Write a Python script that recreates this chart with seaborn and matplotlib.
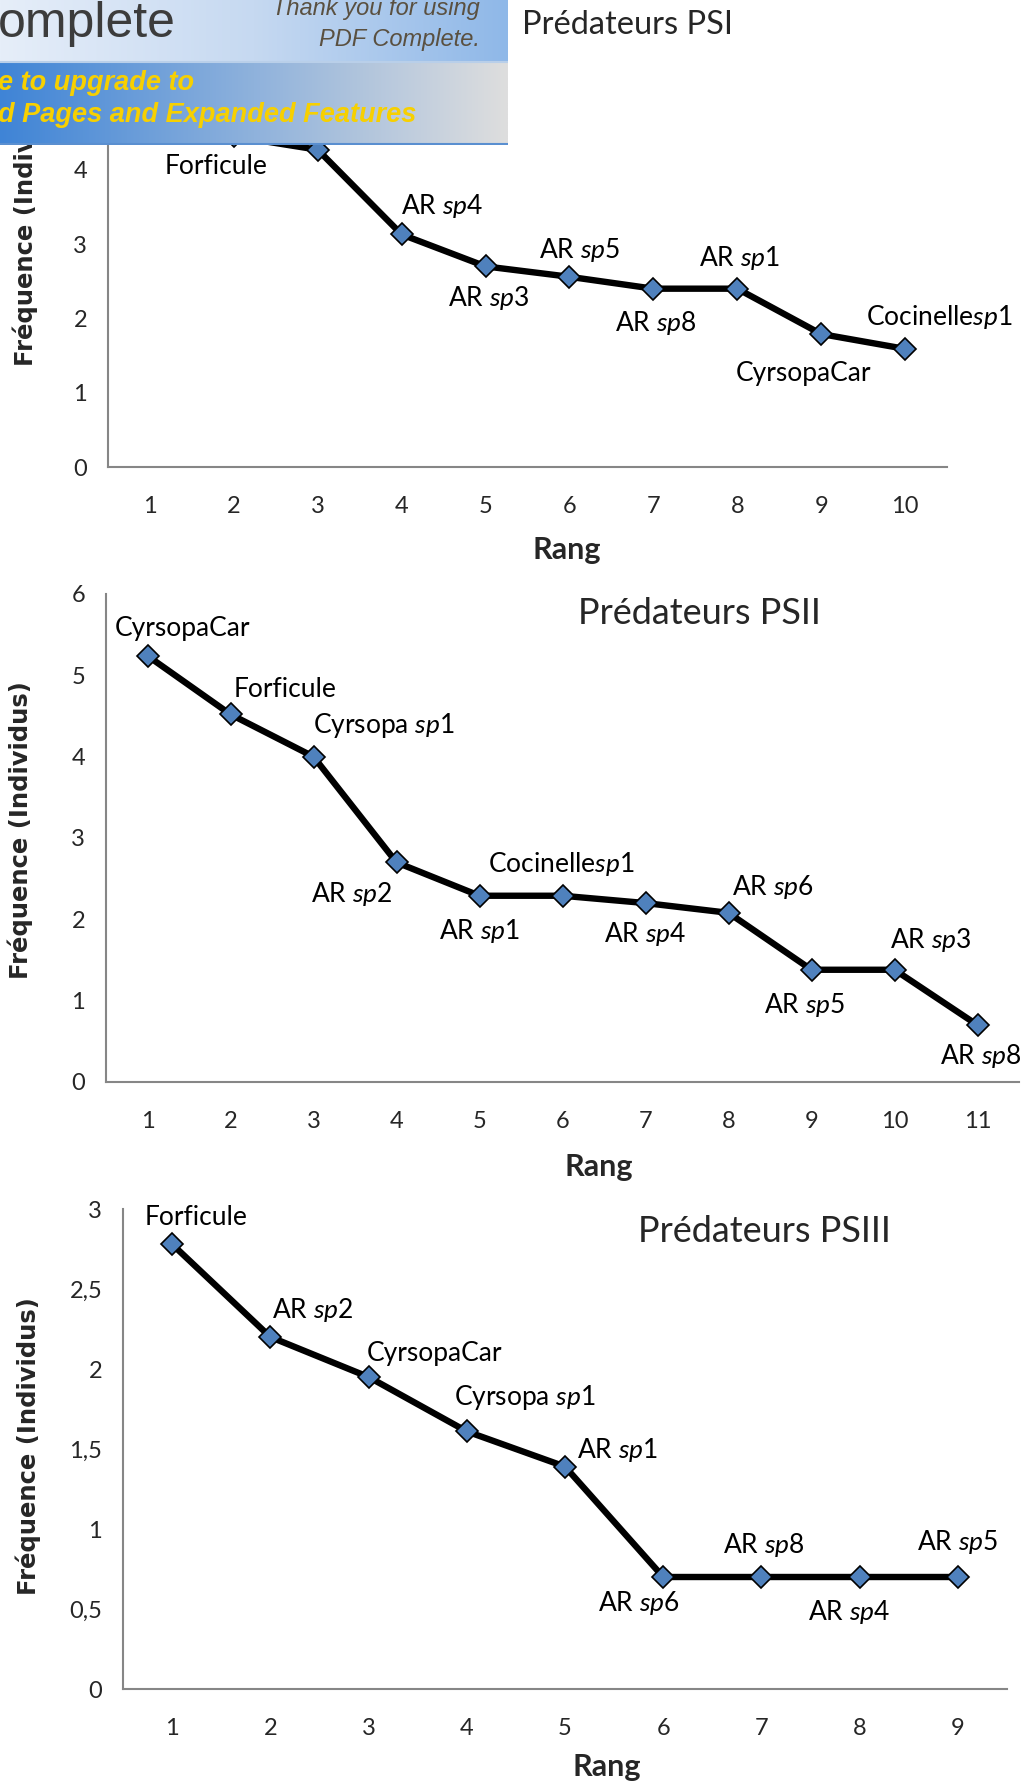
import numpy as np
import matplotlib
matplotlib.use("Agg")
import matplotlib.pyplot as plt
from matplotlib.colors import LinearSegmentedColormap
import seaborn as sns

# Rang / frequence for the three sites
# (labels of PSI points 1 and 3 are hidden under the banner in the source)
ps1_rang = [1, 2, 3, 4, 5, 6, 7, 8, 9, 10]
ps1_freq = [4.7, 4.45, 4.27, 3.13, 2.70, 2.56, 2.40, 2.40, 1.79, 1.59]
ps1_noms = ['', 'Forficule', '', 'AR $\\mathit{sp4}$',
            'AR $\\mathit{sp3}$', 'AR $\\mathit{sp5}$', 'AR $\\mathit{sp8}$', 'AR $\\mathit{sp1}$',
            'CyrsopaCar', 'Cocinelle$\\mathit{sp1}$']

ps2_rang = [1, 2, 3, 4, 5, 6, 7, 8, 9, 10, 11]
ps2_freq = [5.24, 4.52, 4.0, 2.70, 2.29, 2.29, 2.20, 2.08, 1.38, 1.38, 0.70]
ps2_noms = ['CyrsopaCar', 'Forficule', 'Cyrsopa $\\mathit{sp1}$', 'AR $\\mathit{sp2}$',
            'AR $\\mathit{sp1}$', 'Cocinelle$\\mathit{sp1}$', 'AR $\\mathit{sp4}$', 'AR $\\mathit{sp6}$',
            'AR $\\mathit{sp5}$', 'AR $\\mathit{sp3}$', 'AR $\\mathit{sp8}$']

ps3_rang = [1, 2, 3, 4, 5, 6, 7, 8, 9]
ps3_freq = [2.78, 2.20, 1.95, 1.61, 1.39, 0.70, 0.70, 0.70, 0.70]
ps3_noms = ['Forficule', 'AR $\\mathit{sp2}$', 'CyrsopaCar', 'Cyrsopa $\\mathit{sp1}$',
            'AR $\\mathit{sp1}$', 'AR $\\mathit{sp6}$', 'AR $\\mathit{sp8}$', 'AR $\\mathit{sp4}$',
            'AR $\\mathit{sp5}$']

# label offsets (pixels, y down)
ps1_off = [(40, -31), (-18, 30), (40, -31), (40, -28), (3, 32), (10, -27), (2, 34), (2, -31), (-18, 39), (34, -32)]
ps2_off = [(35, -27), (55, -25), (70, -31), (-45, 32), (0, 35), (-1, -32), (0, 31), (44, -26), (-7, 35), (36, -30), (3, 31)]
ps3_off = [(24, -27), (42, -27), (66, -24), (58, -34), (52, -17), (-24, 26), (2, -32), (-11, 35), (0, -35)]

W, H = 1024, 1782

sns.set_theme(style="white")
plt.rcParams['font.family'] = ['Lato', 'DejaVu Sans']
plt.rcParams['mathtext.fontset'] = 'custom'
plt.rcParams['mathtext.rm'] = 'Lato'
plt.rcParams['mathtext.it'] = 'Lato:italic'

fig = plt.figure(figsize=(W / 100, H / 100), dpi=100)
fig.patch.set_facecolor('white')

grey = '#868686'


def px_axes(left, right, top, bottom):
    return fig.add_axes([left / W, 1 - bottom / H, (right - left) / W, (bottom - top) / H])


def ftext(x, y, s, **kw):
    fig.text(x / W, 1 - y / H, s, **kw)


def panel(ax, rang, freq, noms, offs, ymax, ystep, comma=False):
    sns.lineplot(x=rang, y=freq, ax=ax, color='black', linewidth=4.6, marker='D',
                 markersize=11, markerfacecolor='#4F81BD', markeredgecolor='black',
                 markeredgewidth=1.2, zorder=3)
    for xi, yi, nom, (dx, dy) in zip(rang, freq, noms, offs):
        if nom:
            ax.annotate(nom, (xi, yi), xytext=(dx, -dy), textcoords='offset pixels',
                        ha='center', va='center', fontsize=19, color='black')
    n = len(rang)
    ax.set_xlim(0.5, n + 0.5)
    ax.set_ylim(0, ymax)
    ax.set_xticks(rang)
    ax.set_xticks(np.arange(0.5, n + 1, 1.0), minor=True)
    yt = np.arange(0, ymax + ystep / 2, ystep)
    ax.set_yticks(yt)
    if comma:
        ax.set_yticklabels([('%g' % v).replace('.', ',') for v in yt])
    else:
        ax.set_yticklabels(['%g' % v for v in yt])
    ax.tick_params(axis='x', which='major', length=0, pad=21, labelsize=17)
    ax.tick_params(axis='x', which='minor', length=7, width=1.4, color=grey, direction='out')
    ax.tick_params(axis='y', length=6, width=1.4, color=grey, direction='out', pad=9, labelsize=17)
    for s in ['top', 'right']:
        ax.spines[s].set_visible(False)
    for s in ['left', 'bottom']:
        ax.spines[s].set_color(grey)
        ax.spines[s].set_linewidth(1.5)
    ax.set_xlabel('')
    ax.set_ylabel('')
    ax.patch.set_alpha(0)


ax1 = px_axes(108, 947, 95.5, 467)
panel(ax1, ps1_rang, ps1_freq, ps1_noms, ps1_off, 5, 1)
ax2 = px_axes(106, 1019, 594, 1082)
panel(ax2, ps2_rang, ps2_freq, ps2_noms, ps2_off, 6, 1)
ax3 = px_axes(123, 1007, 1209, 1689)
panel(ax3, ps3_rang, ps3_freq, ps3_noms, ps3_off, 3, 0.5, comma=True)

# titles
ftext(628, 25, 'Prédateurs PSI', fontsize=23.5, ha='center', va='center')
ftext(699, 614, 'Prédateurs PSII', fontsize=26, ha='center', va='center')
ftext(764, 1231, 'Prédateurs PSIII', fontsize=26, ha='center', va='center')

# axis titles
ylab = 'Fréquence (Individus)'
for x, y in [(25, 217), (20, 830), (28, 1446)]:
    ftext(x, y, ylab, fontsize=17.5, rotation=90, ha='center', va='center',
          family='DejaVu Sans', fontweight='bold')
for x, y in [(567, 550), (599, 1167), (607, 1767)]:
    ftext(x, y, 'Rang', fontsize=22, ha='center', va='center', fontweight='bold')

# PDF Complete banner laid over the top left
bw, bh = 508, 145
bax = fig.add_axes([0, 1 - bh / H, bw / W, bh / H], zorder=10)
bax.set_xlim(0, bw)
bax.set_ylim(bh, 0)
bax.axis('off')
grad = np.linspace(0, 1, 256)[None, :]
top_cmap = LinearSegmentedColormap.from_list('top', ['#e6eef9', '#c6d9f1', '#8fb8e8'])
bot_cmap = LinearSegmentedColormap.from_list('bot', ['#3f84d6', '#8fb2dc', '#dedede'])
bax.imshow(grad, cmap=top_cmap, extent=(0, bw, 62, 0), aspect='auto')
bax.imshow(grad, cmap=bot_cmap, extent=(0, bw, 145, 62), aspect='auto')
bax.axhline(62, color='#b9cfe9', lw=1.5)
bax.axhline(144, color='#5a8fd0', lw=1.5)
bax.set_xlim(0, bw)
bax.set_ylim(bh, 0)
bax.text(-2, 37, 'omplete', fontsize=36, color='#3c3c3c', family='Liberation Sans',
         ha='left', va='baseline')
bax.text(480, 15, 'Thank you for using', fontsize=17, color='#5a5040', style='italic',
         family='Liberation Sans', ha='right', va='baseline')
bax.text(480, 46, 'PDF Complete.', fontsize=17, color='#5a5040', style='italic',
         family='Liberation Sans', ha='right', va='baseline')
bax.text(-2, 90, 'e to upgrade to', fontsize=19.5, color='#f7d000', style='italic',
         fontweight='bold', family='Liberation Sans', ha='left', va='baseline')
bax.text(-2, 122, 'd Pages and Expanded Features', fontsize=19.5, color='#f7d000', style='italic',
         fontweight='bold', family='Liberation Sans', ha='left', va='baseline')

fig.savefig('out.png', dpi=100, facecolor='white')
